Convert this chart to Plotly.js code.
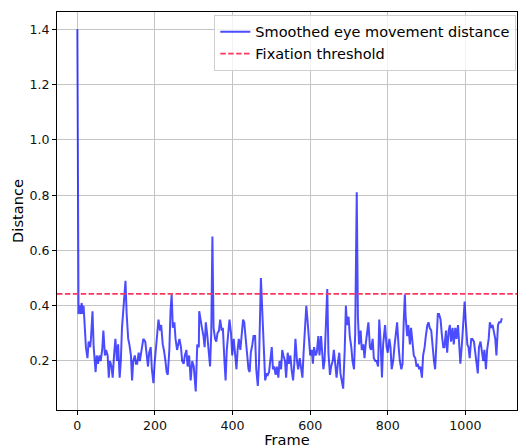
<!DOCTYPE html>
<html>
<head>
<meta charset="utf-8">
<script src="https://cdn.plot.ly/plotly-3.0.1.min.js"></script>
<style>html,body{margin:0;padding:0;background:#fff;}#chart{width:519px;height:448px;}</style>
</head>
<body>
<div id="chart"></div>
<script>
const frames = [0,3,6,9,11,14,16,19,22,26,29,33,35,39,42,47,50,53,57,60,64,67,71,74,78,81,84,88,91,95,98,102,105,109,112,115,119,124,127,131,134,138,141,144,148,151,
154,158,161,165,170,175,179,182,185,189,192,196,199,203,206,209,213,216,220,223,227,230,233,237,240,243,246,250,253,257,260,263,267,270,274,277,281,284,288,292,296,300,305,309,313,
314,321,325,328,331,335,338,342,345,348,351,355,358,361,365,368,372,375,379,382,385,389,392,396,399,403,406,410,413,416,420,423,427,430,434,437,441,444,447,451,454,458,461,465,468,473,
484,488,491,494,498,501,504,507,511,514,518,521,525,528,531,535,538,542,545,549,552,556,559,562,566,569,573,576,580,583,586,590,593,597,600,604,607,610,614,617,621,624,628,631,
634,637,640,644,647,651,654,658,661,665,668,672,675,678,682,685,689,692,695,699,702,706,709,713,716,720,723,726,730,733,737,740,743,747,750,754,757,761,764,768,771,775,778,781,785,788,792,
793,797,800,804,807,810,814,817,821,824,828,831,835,838,841,844,846,850,853,857,860,864,867,871,874,877,881,884,888,891,895,898,902,905,908,912,915,919,922,926,929,932,936,939,943,946,950,
953,957,960,963,967,970,974,977,981,984,987,991,994,998,1001,1005,1008,1011,1015,1018,1022,1025,1029,1032,1035,1039,1042,1046,1049,1053,1056,1060,1063,1066,1070,1073,1077,1080,1084,1087,1091,1094];
const distance = [1.40,0.37,0.40,0.37,0.41,0.37,0.40,0.32,0.25,0.21,0.27,0.25,0.28,0.38,0.25,0.16,0.22,0.19,0.22,0.20,0.24,0.31,0.22,0.24,0.22,0.14,0.20,0.18,0.14,0.23,0.28,0.20,0.26,0.14,0.20,0.32,0.41,0.49,0.37,0.28,0.26,0.22,0.13,0.20,0.22,0.19,
0.19,0.23,0.20,0.24,0.28,0.27,0.22,0.18,0.23,0.25,0.17,0.12,0.19,0.25,0.30,0.35,0.31,0.33,0.26,0.24,0.20,0.16,0.15,0.24,0.38,0.44,0.32,0.34,0.28,0.24,0.26,0.28,0.25,0.20,0.19,0.22,0.24,0.18,0.22,0.13,0.20,0.18,0.09,0.26,0.25,
0.38,0.32,0.29,0.25,0.34,0.29,0.25,0.18,0.30,0.65,0.32,0.28,0.27,0.30,0.31,0.35,0.31,0.32,0.20,0.13,0.24,0.31,0.35,0.30,0.22,0.28,0.23,0.17,0.24,0.28,0.24,0.30,0.35,0.34,0.28,0.22,0.17,0.16,0.23,0.26,0.29,0.29,0.17,0.11,0.19,0.50,
0.13,0.155,0.15,0.16,0.22,0.25,0.17,0.18,0.15,0.18,0.14,0.20,0.17,0.24,0.22,0.20,0.14,0.23,0.19,0.22,0.17,0.13,0.19,0.28,0.20,0.17,0.21,0.18,0.14,0.23,0.31,0.40,0.35,0.28,0.22,0.24,0.19,0.25,0.22,0.23,0.29,0.22,0.29,0.23,
0.17,0.20,0.32,0.46,0.23,0.15,0.18,0.20,0.24,0.19,0.14,0.20,0.23,0.155,0.13,0.10,0.24,0.40,0.33,0.36,0.29,0.25,0.20,0.17,0.30,0.81,0.36,0.26,0.31,0.24,0.26,0.21,0.26,0.30,0.34,0.25,0.24,0.28,0.21,0.20,0.20,0.18,0.35,0.28,0.14,0.26,0.31,
0.33,0.25,0.23,0.28,0.25,0.17,0.20,0.25,0.31,0.34,0.25,0.20,0.17,0.19,0.34,0.44,0.36,0.29,0.33,0.26,0.32,0.25,0.22,0.21,0.18,0.19,0.17,0.18,0.14,0.22,0.25,0.29,0.33,0.34,0.32,0.31,0.25,0.20,0.17,0.28,0.37,0.37,0.35,0.30,0.25,0.25,0.31,
0.23,0.31,0.33,0.27,0.32,0.26,0.32,0.28,0.33,0.23,0.19,0.26,0.35,0.415,0.34,0.26,0.25,0.21,0.28,0.28,0.27,0.24,0.20,0.155,0.25,0.27,0.24,0.20,0.24,0.17,0.24,0.28,0.34,0.32,0.33,0.31,0.28,0.22,0.33,0.34,0.34,0.355];
const threshold = 0.443;
const seriesNames = ["Smoothed eye movement distance", "Fixation threshold"];
const xTicks = [0, 200, 400, 600, 800, 1000];
const yTicks = [0.2, 0.4, 0.6, 0.8, 1.0, 1.2, 1.4];
const xRange = [-52.5, 1133];
const yRange = [0.0227, 1.4626];

const font = "DejaVu Sans, sans-serif";
const traces = [
  {x: frames, y: distance, type: "scatter", mode: "lines", name: seriesNames[0],
   line: {color: "rgba(0,0,255,0.7)", width: 2}},
  {x: xRange, y: [threshold, threshold], type: "scatter", mode: "lines", name: seriesNames[1],
   line: {color: "rgb(250,55,95)", width: 1.8, dash: "5.5px,2.4px"}}
];
const axisBase = {
  showline: true, mirror: true, linecolor: "#000", linewidth: 1,
  ticks: "outside", ticklen: 4, tickwidth: 1, tickcolor: "#000",
  showgrid: true, gridcolor: "#c4c4c4", gridwidth: 1, zeroline: false,
  tickfont: {family: font, size: 12.6, color: "#111"}
};
const layout = {
  width: 519, height: 448,
  margin: {l: 57, r: 2, t: 12, b: 38},
  paper_bgcolor: "#fff", plot_bgcolor: "#fff",
  showlegend: true,
  legend: {x: 0.342, y: 0.993, xanchor: "left", yanchor: "top",
    bgcolor: "rgba(255,255,255,0.8)", bordercolor: "#d0d0d0", borderwidth: 1,
    font: {family: font, size: 14.5, color: "#000"}},
  xaxis: Object.assign({}, axisBase, {range: xRange, tickvals: xTicks, ticktext: xTicks.map(String),
    title: {text: "Frame", font: {family: font, size: 14.6, color: "#000"}, standoff: 4}}),
  yaxis: Object.assign({}, axisBase, {range: yRange, tickvals: yTicks, ticktext: yTicks.map(v => v.toFixed(1)),
    title: {text: "Distance", font: {family: font, size: 14.6, color: "#000"}, standoff: 2}}),
  hovermode: false
};
Plotly.newPlot("chart", traces, layout, {displayModeBar: false, staticPlot: true});
</script>
</body>
</html>
